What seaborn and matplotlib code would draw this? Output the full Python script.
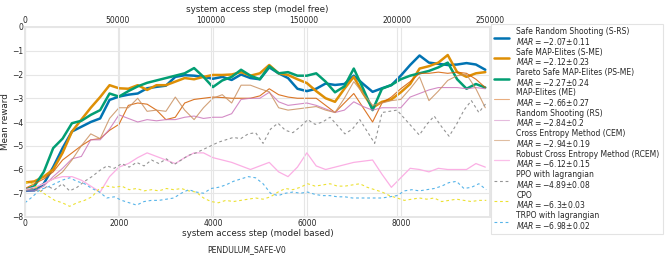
import numpy as np
import pandas as pd
import matplotlib
matplotlib.use("Agg")
import matplotlib.pyplot as plt
import seaborn as sns

# ---------------- data ----------------
mb_steps = list(range(0, 10000, 200))  # model based x (50 points)
mf_steps = list(range(0, 250000, 4000))  # model free x (63 points)

srs = [-6.9, -6.88, -6.6, -5.9, -5.1, -4.4, -4.2, -4.0, -3.85, -3.07,
       -2.93, -2.85, -2.8, -2.58, -2.52, -2.47, -2.1, -2.03, -2.05, -2.1,
       -2.18, -2.1, -2.23, -2.0, -2.15, -2.2, -1.7, -1.95, -2.15, -2.6,
       -2.7, -2.6, -2.38, -2.44, -2.4, -2.05, -2.4, -2.73, -2.58, -2.45,
       -2.05, -1.6, -1.2, -1.5, -1.55, -1.6, -1.58, -1.52, -1.58, -1.8]
sme = [-6.55, -6.5, -6.3, -6.0, -5.3, -4.4, -3.9, -3.4, -2.95, -2.45,
       -2.58, -2.6, -2.45, -2.65, -2.45, -2.45, -2.3, -2.15, -2.2, -2.1,
       -2.02, -2.02, -2.0, -1.9, -2.05, -1.95, -1.6, -1.95, -2.02, -2.2,
       -2.36, -2.7, -3.0, -3.15, -2.6, -2.1, -2.8, -3.4, -3.15, -3.05,
       -2.75, -2.4, -1.75, -1.65, -1.5, -1.18, -1.9, -2.1, -1.95, -1.9]
psme = [-6.85, -6.7, -6.1, -5.1, -4.7, -4.05, -3.95, -3.7, -3.5, -2.8,
        -2.93, -2.7, -2.5, -2.35, -2.25, -2.15, -2.05, -1.95, -1.73, -2.1,
        -2.53, -2.25, -2.1, -1.8, -2.05, -2.2, -1.65, -1.95, -1.9, -2.05,
        -2.05, -1.95, -2.3, -2.75, -2.5, -1.75, -2.6, -3.5, -2.6, -2.44,
        -2.2, -2.05, -1.95, -1.85, -1.7, -1.5, -2.2, -2.6, -2.4, -2.55]
me = [-6.8, -6.6, -6.4, -6.1, -5.6, -5.3, -5.0, -4.75, -4.7, -4.35,
      -4.1, -3.3, -3.2, -3.25, -3.5, -3.9, -3.8, -3.2, -3.05, -3.0,
      -2.95, -2.97, -3.0, -3.0, -3.0, -2.9, -2.6, -2.85, -2.95, -3.0,
      -3.0, -3.0, -3.3, -3.6, -3.2, -2.8, -3.4, -4.0, -3.2, -2.95,
      -2.6, -2.3, -1.95, -1.95, -1.9, -1.95, -1.9, -1.95, -2.2, -2.55]
rs = [-6.9, -6.9, -6.7, -6.3, -5.95, -5.55, -5.45, -4.75, -4.75, -4.3,
      -3.7, -3.85, -4.0, -3.9, -3.95, -3.9, -3.9, -3.8, -3.75, -3.85,
      -3.8, -3.8, -3.65, -3.05, -3.0, -3.0, -2.75, -3.15, -3.3, -3.25,
      -3.2, -3.3, -3.45, -3.6, -3.5, -3.15, -3.35, -3.5, -3.4, -3.4,
      -3.4, -2.95, -2.8, -2.65, -2.55, -2.55, -2.55, -2.6, -2.55, -2.6]
cem = [-6.85, -6.8, -6.6, -6.4, -6.1, -5.6, -5.0, -4.5, -4.7, -3.85,
       -3.4, -3.4, -3.0, -3.55, -3.5, -3.55, -2.95, -3.5, -3.9, -3.4,
       -3.0, -2.85, -3.2, -2.45, -2.45, -2.6, -2.73, -3.4, -3.5, -3.45,
       -3.4, -3.35, -3.5, -3.6, -3.0, -2.3, -2.8, -3.3, -3.2, -3.1,
       -3.05, -2.6, -2.1, -3.1, -2.7, -2.25, -2.05, -2.0, -2.6, -3.4]
rcem = [-6.85, -6.75, -6.6, -6.4, -6.3, -6.3, -6.45, -6.7, -6.95, -6.3,
        -5.9, -5.75, -5.5, -5.3, -5.45, -5.6, -5.75, -5.5, -5.3, -5.3,
        -5.5, -5.6, -5.7, -5.85, -6.0, -5.85, -5.7, -6.1, -6.3, -5.9,
        -5.3, -5.85, -6.0, -5.9, -5.8, -5.7, -5.65, -5.6, -6.2, -6.75,
        -6.35, -5.95, -6.0, -6.1, -5.95, -6.0, -6.0, -6.0, -5.75, -5.9]
ppo = [-6.9, -6.8, -6.95, -6.7, -6.85, -6.6, -6.9, -6.75, -6.5, -6.3,
       -6.05, -5.85, -5.95, -5.75, -5.9, -5.7, -5.85, -5.6, -5.75, -5.55,
       -5.8, -5.6, -5.4, -5.3, -5.15, -5.0, -4.85, -4.75, -4.65, -4.7,
       -4.5, -4.45, -4.9, -4.3, -4.05, -4.35, -4.45, -4.2, -3.9, -4.1,
       -4.0, -3.8, -4.15, -4.5, -4.3, -3.9, -4.4, -4.9, -3.6, -3.55,
       -3.5, -3.85, -4.2, -4.55, -4.1, -3.75, -4.2, -4.6, -4.1, -3.5,
       -3.1, -3.6, -3.2]
cpo = [-6.55, -6.6, -6.9, -7.1, -7.3, -7.4, -7.55, -7.4, -7.3, -7.15,
       -6.8, -6.7, -6.75, -6.7, -6.85, -6.8, -6.9, -6.85, -6.9, -6.8,
       -6.85, -6.8, -6.9, -6.95, -7.2, -7.35, -7.4, -7.3, -7.35, -7.3,
       -7.25, -7.2, -7.25, -7.15, -6.95, -6.8, -6.85, -6.75, -6.6, -6.7,
       -6.65, -6.6, -6.7, -6.7, -6.65, -6.6, -6.75, -6.85, -6.95, -7.1,
       -7.2, -7.3, -7.25, -7.2, -7.25, -7.2, -7.35, -7.3, -7.25, -7.3,
       -7.35, -7.3, -7.3]
trpo = [-7.4, -7.15, -6.85, -6.75, -6.6, -6.45, -6.35, -6.5, -6.6, -6.8,
        -6.95, -7.2, -7.15, -7.3, -7.4, -7.5, -7.35, -7.3, -7.3, -7.25,
        -7.2, -7.0, -6.85, -6.95, -7.0, -6.8, -6.75, -6.65, -6.5, -6.4,
        -6.3, -6.35, -6.6, -7.0, -7.1, -7.0, -6.95, -7.0, -6.95, -7.05,
        -7.1, -7.1, -7.15, -7.15, -7.2, -7.2, -7.2, -7.2, -7.2, -7.15,
        -7.1, -6.9, -6.85, -6.9, -6.85, -6.8, -6.7, -6.55, -6.5, -6.8,
        -6.75, -6.6, -6.85]

mb_names = ["Safe Random Shooting (S-RS)", "Safe MAP-Elites (S-ME)",
            "Pareto Safe MAP-Elites (PS-ME)", "MAP-Elites (ME)",
            "Random Shooting (RS)", "Cross Entropy Method (CEM)",
            "Robust Cross Entropy Method (RCEM)"]
mf_names = ["PPO with lagrangian", "CPO", "TRPO with lagrangian"]
mb_mar = ["-2.07{\\pm}0.11", "-2.12{\\pm}0.23", "-2.27{\\pm}0.24", "-2.66{\\pm}0.27",
          "-2.84{\\pm}0.2", "-2.94{\\pm}0.19", "-6.12{\\pm}0.15"]
mf_mar = ["-4.89{\\pm}0.08", "-6.3{\\pm}0.03", "-6.98{\\pm}0.02"]
mb_series = [srs, sme, psme, me, rs, cem, rcem]
mf_series = [ppo, cpo, trpo]

pal = sns.color_palette("colorblind")
mb_colors = [pal[0], pal[1], pal[2], pal[3], pal[4], pal[5], pal[6]]
mf_colors = [pal[7], pal[8], pal[9]]
mb_lw = [1.8, 1.8, 1.8, 0.8, 0.8, 0.8, 0.9]
mb_alpha = [1, 1, 1, 0.85, 0.85, 0.85, 1]
legend_alpha = [1, 1, 1, 0.5, 0.5, 0.6, 0.8, 1, 1, 1]

# ---------------- figure ----------------
sns.set_theme(style="whitegrid", rc={"grid.color": "#e6e6e6", "grid.linewidth": 0.8,
                                     "axes.edgecolor": "#e6e6e6"})
plt.rcParams["font.family"] = ["DejaVu Sans"]
fs = 5.5

fig = plt.figure(figsize=(6.65, 2.58), dpi=100)
ax = fig.add_axes([25 / 665, 1 - 217 / 258, 465 / 665, 190 / 258])
ax2 = ax.twiny()

handles = []
labels = []
for name, mar, vals, c, lw, a in zip(mb_names, mb_mar, mb_series, mb_colors, mb_lw, mb_alpha):
    df = pd.DataFrame({"step": mb_steps, "reward": vals})
    sns.lineplot(data=df, x="step", y="reward", ax=ax, color=c, lw=lw, alpha=a)
    handles.append(ax.lines[-1])
    labels.append(name + "\n$MAR = " + mar + "$")

for name, mar, vals, c in zip(mf_names, mf_mar, mf_series, mf_colors):
    df = pd.DataFrame({"step": mf_steps, "reward": vals})
    sns.lineplot(data=df, x="step", y="reward", ax=ax2, color=c, lw=0.8,
                 linestyle=(0, (2.5, 2.5)))
    handles.append(ax2.lines[-1])
    labels.append(name + "\n$MAR = " + mar + "$")

ax.set_xlim(0, 9900)
ax.set_ylim(-8, 0)
ax2.set_xlim(0, 250000)
ax.set_xticks([0, 2000, 4000, 6000, 8000])
ax2.set_xticks([0, 50000, 100000, 150000, 200000, 250000])
ax.set_yticks(range(-8, 1))
ax2.grid(axis="y", visible=False)
ax2.grid(axis="x", visible=True, color="#e6e6e6", lw=0.8)

ax.set_xlabel("system access step (model based)", fontsize=6.3, labelpad=1)
ax2.set_xlabel("system access step (model free)", fontsize=6.3, labelpad=3)
ax.set_ylabel("Mean reward", fontsize=6.3, labelpad=1.5)
ax.tick_params(axis="both", labelsize=fs, pad=1.5, length=0)
ax2.tick_params(axis="x", labelsize=fs, pad=1.5, length=0)
for a_ in (ax, ax2):
    for s in a_.spines.values():
        s.set_color("#e6e6e6")

fig.text(247 / 665, 1 - 250 / 258, "PENDULUM_SAFE-V0", fontsize=5.6,
         ha="center", va="center", color="0.15")

leg = fig.legend(handles, labels, loc="upper left",
                 bbox_to_anchor=(491 / 665, 1 - 24 / 258), fontsize=fs,
                 frameon=True, fancybox=False, handlelength=2.0,
                 handletextpad=0.9, labelspacing=0.12, borderpad=0.4,
                 borderaxespad=0)
for t in leg.get_texts():
    t.set_linespacing(0.95)
leg.get_frame().set_edgecolor("#dddddd")
leg.get_frame().set_linewidth(0.8)
for h, a in zip(leg.legend_handles, legend_alpha):
    h.set_alpha(a)

fig.savefig("out.png", dpi=100)
